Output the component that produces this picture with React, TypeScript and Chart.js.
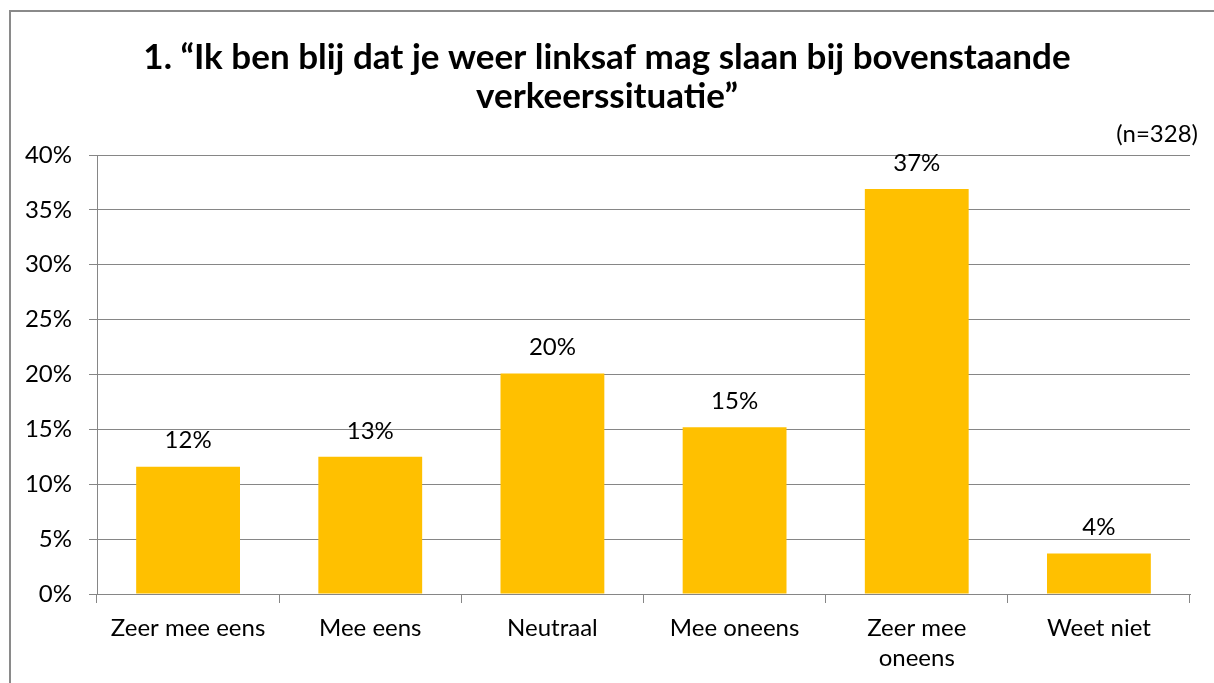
import React, { useEffect, useRef } from "react";
import { Chart, registerables } from "chart.js";

Chart.register(...registerables);

const categories: (string | string[])[] = [
  "Zeer mee eens",
  "Mee eens",
  "Neutraal",
  "Mee oneens",
  ["Zeer mee", "oneens"],
  "Weet niet",
];
const percentages = [11.6, 12.5, 20.1, 15.2, 36.9, 3.7];
const valueLabels = ["12%", "13%", "20%", "15%", "37%", "4%"];
const titleLines = [
  "1. \u201CIk ben blij dat je weer linksaf mag slaan bij bovenstaande",
  "verkeerssituatie\u201D",
];
const subtitleText = "(n=328)";

const FONT = "Lato, 'Open Sans', sans-serif";
const GRID = "#868686";

const framePlugin = {
  id: "frame",
  beforeDraw(chart: any) {
    const ctx = chart.ctx;
    ctx.save();
    ctx.fillStyle = "#ffffff";
    ctx.fillRect(0, 0, chart.width, chart.height);
    ctx.strokeStyle = "#8a8a8a";
    ctx.lineWidth = 2;
    ctx.strokeRect(10, 11, chart.width + 20, chart.height + 20);
    ctx.restore();
  },
};

const centerTitlePlugin = {
  id: "centerTitle",
  afterLayout(chart: any) {
    const t = chart.titleBlock;
    if (t) {
      t.left = 0;
      t.right = chart.width;
      t.width = chart.width;
    }
  },
};

const nPlugin = {
  id: "nLabel",
  afterDraw(chart: any) {
    const ctx = chart.ctx;
    const area = chart.chartArea;
    ctx.save();
    ctx.font = `24px ${FONT}`;
    ctx.fillStyle = "#000";
    ctx.textAlign = "right";
    ctx.textBaseline = "middle";
    ctx.fillText(subtitleText, area.right + 8, area.top - 21);
    ctx.restore();
  },
};

const valueLabelPlugin = {
  id: "valueLabels",
  afterDatasetsDraw(chart: any) {
    const ctx = chart.ctx;
    const meta = chart.getDatasetMeta(0);
    ctx.save();
    ctx.font = `24px ${FONT}`;
    ctx.fillStyle = "#000";
    ctx.textAlign = "center";
    ctx.textBaseline = "middle";
    meta.data.forEach((bar: any, i: number) => {
      ctx.fillText(valueLabels[i], bar.x, bar.y - 26);
    });
    ctx.restore();
  },
};

export default function App() {
  const ref = useRef<HTMLCanvasElement | null>(null);
  useEffect(() => {
    if (!ref.current) return;
    const chart = new Chart(ref.current, {
      type: "bar",
      data: {
        labels: categories as any,
        datasets: [
          {
            data: percentages,
            backgroundColor: "#FFC000",
            borderWidth: 0,
            barPercentage: 0.57,
            categoryPercentage: 1,
          },
        ],
      },
      options: {
        animation: false,
        responsive: false,
        maintainAspectRatio: false,
        layout: { padding: { left: 0, right: 24, top: 0, bottom: 0 } },
        plugins: {
          legend: { display: false },
          tooltip: { enabled: false },
          title: {
            display: true,
            text: titleLines,
            color: "#000",
            font: { family: FONT, size: 35, weight: "bold", lineHeight: "39px" },
            padding: { top: 38, bottom: 39 },
          },
        },
        scales: {
          x: {
            grid: {
              display: true,
              drawOnChartArea: false,
              drawTicks: true,
              tickLength: 9,
              color: GRID,
              offset: true,
            },
            border: { display: true, color: GRID, width: 1 },
            ticks: {
              color: "#000",
              font: { family: FONT, size: 24, lineHeight: 1.25 },
              padding: 10,
              maxRotation: 0,
              autoSkip: false,
            },
          },
          y: {
            min: 0,
            max: 40,
            afterFit(scale: any) {
              scale.width = 97;
            },
            grid: { color: GRID, tickLength: 8, lineWidth: 1 },
            border: { display: true, color: GRID, width: 1 },
            ticks: {
              stepSize: 5,
              color: "#000",
              font: { family: FONT, size: 24 },
              padding: 17,
              callback: (v: any) => `${v}%`,
            },
          },
        },
      },
      plugins: [framePlugin, centerTitlePlugin, valueLabelPlugin, nPlugin],
    });
    return () => chart.destroy();
  }, []);
  return (
    <div style={{ position: "fixed", left: 0, top: 0, width: 1214, height: 683 }}>
      <canvas ref={ref} width={1214} height={683} style={{ display: "block" }} />
    </div>
  );
}
